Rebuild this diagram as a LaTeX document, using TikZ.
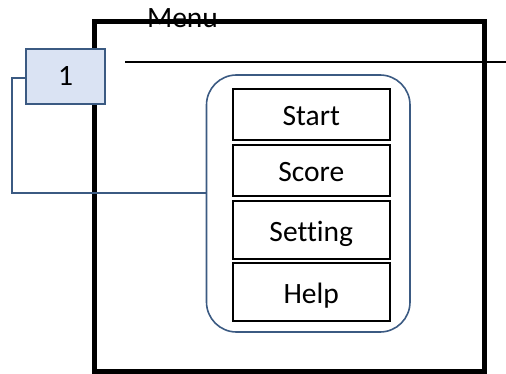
\documentclass[tikz,border=0pt]{standalone}
\usepackage{fontspec}
\setmainfont{Carlito}[Ligatures=NoCommon]
\definecolor{navyline}{HTML}{3B5A82}
\definecolor{paleblue}{HTML}{DAE3F3}
\begin{document}
\begin{tikzpicture}[x=1pt,y=-1pt,
  every node/.style={font=\fontsize{29.5}{34}\selectfont, inner sep=0pt},
  frame/.style={draw=black, line width=5pt, minimum width=390pt, minimum height=349.5pt},
  panel/.style={draw=navyline, line width=1.6pt, rounded corners=30pt, minimum width=203.5pt, minimum height=257pt},
  tag/.style={draw=navyline, fill=paleblue, line width=1.8pt, minimum width=79pt, minimum height=55pt, text height=19pt, text depth=0pt},
  menuitem/.style={draw=black, line width=2pt, minimum width=157.5pt, text height=22pt, text depth=0pt},
  link/.style={draw=navyline, line width=1.6pt},
  rule/.style={draw=black, line width=2pt}
]
\useasboundingbox (0,0) rectangle (506,374);
% window frame and its title
\node[frame] (window) at (289,196.75) {};
\node[anchor=base] (title) at (182.5,28) {Menu};
% horizontal rule under the title bar
\coordinate (ruleL) at (125,62);
\coordinate (ruleR) at (506,62);
\draw[rule] (ruleL) -- (ruleR);
% rounded panel holding the buttons
\node[panel] (panel) at (308.25,203.5) {};
\node[menuitem, minimum height=51pt] (start)   at (311.25,114.5) {Start};
\node[menuitem, minimum height=51pt] (score)   at (311.25,170.5) {Score};
\node[menuitem, minimum height=58pt] (setting) at (311.25,230)   {Setting};
\node[menuitem, minimum height=58pt] (help)    at (311.25,292)   {Help};
% callout tag and its leader
\node[tag] (tag1) at (65.5,76.5) {1};
\coordinate (bend) at (12,193);
\draw[link] (tag1.west |- 0,78) -| (bend) -- (bend -| panel.west);
\end{tikzpicture}
\end{document}
